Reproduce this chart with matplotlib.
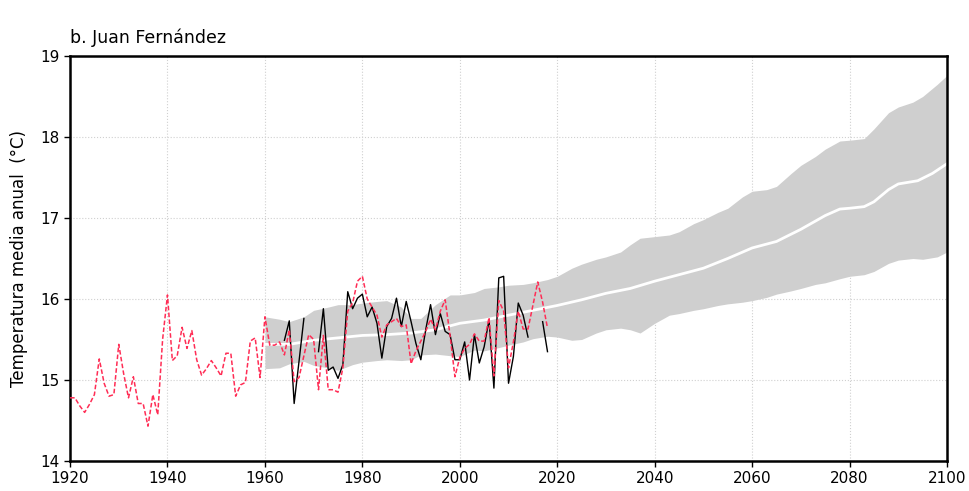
import numpy as np
import matplotlib
matplotlib.use("Agg")
import matplotlib.pyplot as plt

# observed series (red dashed), 1920-2018
obs_red_years = np.arange(1920, 2019)
obs_red = [
    14.78, 14.78, 14.68, 14.60, 14.70, 14.82, 15.26, 14.96, 14.80, 14.82,
    15.44, 15.08, 14.78, 15.04, 14.71, 14.71, 14.43, 14.82, 14.57, 15.50,
    16.05, 15.24, 15.30, 15.65, 15.39, 15.61, 15.25, 15.06, 15.14, 15.24,
    15.15, 15.05, 15.33, 15.33, 14.80, 14.94, 14.97, 15.48, 15.52, 15.03,
    15.78, 15.43, 15.43, 15.47, 15.31, 15.62, 14.98, 15.03, 15.30, 15.56,
    15.50, 14.88, 15.55, 14.88, 14.88, 14.85, 15.15, 15.85, 15.95, 16.22,
    16.28, 16.00, 15.90, 15.80, 15.53, 15.68, 15.72, 15.76, 15.66, 15.68,
    15.20, 15.36, 15.48, 15.60, 15.75, 15.62, 15.85, 15.99, 15.55, 15.04,
    15.28, 15.39, 15.44, 15.57, 15.48, 15.48, 15.77, 15.05, 15.98, 15.85,
    15.15, 15.47, 15.85, 15.63, 15.63, 15.92, 16.21, 15.96, 15.64,
]

# station series (black), 1964-2018, gaps as nan
obs_black_years = np.arange(1964, 2019)
obs_black = [
    15.49, 15.73, 14.71, 15.23, 15.76, np.nan, np.nan, 15.35, 15.88, 15.12,
    15.16, 15.02, 15.19, 16.09, 15.88, 16.01, 16.06, 15.78, 15.90, 15.70,
    15.27, 15.66, 15.76, 16.01, 15.66, 15.97, 15.72, 15.45, 15.25, 15.62,
    15.93, 15.56, 15.82, 15.60, 15.56, 15.25, 15.25, 15.47, 15.00, 15.56,
    15.21, 15.41, 15.74, 14.90, 16.26, 16.28, 14.96, 15.29, 15.95, 15.80,
    15.53, np.nan, np.nan, 15.72, 15.35,
]

# model envelope
band_years = [
    1960, 1963, 1965, 1968, 1970, 1973, 1975, 1978, 1980, 1983, 1985, 1988,
    1990, 1992, 1995, 1998, 2000, 2003, 2005, 2008, 2010, 2013, 2015, 2018,
    2020, 2023, 2025, 2028, 2030, 2033, 2035, 2037, 2040, 2043, 2045, 2048,
    2050, 2053, 2055, 2058, 2060, 2063, 2065, 2068, 2070, 2073, 2075, 2078,
    2080, 2083, 2085, 2088, 2090, 2093, 2095, 2098, 2100,
]
band_upper = [
    15.78, 15.75, 15.72, 15.78, 15.86, 15.90, 15.93, 15.93, 15.95, 15.97, 15.98, 15.90,
    15.76, 15.76, 15.93, 16.05, 16.05, 16.08, 16.13, 16.15, 16.17, 16.18, 16.20, 16.24,
    16.28, 16.38, 16.43, 16.49, 16.52, 16.58, 16.67, 16.75, 16.77, 16.79, 16.83, 16.93,
    16.98, 17.07, 17.12, 17.26, 17.33, 17.35, 17.39, 17.55, 17.65, 17.76, 17.85, 17.95,
    17.96, 17.98, 18.10, 18.30, 18.37, 18.43, 18.50, 18.65, 18.76,
]
band_lower = [
    15.14, 15.15, 15.20, 15.23, 15.18, 15.15, 15.12, 15.19, 15.22, 15.24, 15.25, 15.24,
    15.25, 15.31, 15.32, 15.30, 15.29, 15.37, 15.36, 15.40, 15.43, 15.47, 15.51, 15.54,
    15.53, 15.49, 15.50, 15.58, 15.62, 15.64, 15.62, 15.58, 15.70, 15.80, 15.82, 15.86,
    15.88, 15.92, 15.94, 15.96, 15.98, 16.02, 16.06, 16.10, 16.13, 16.18, 16.20, 16.25,
    16.28, 16.30, 16.34, 16.44, 16.48, 16.50, 16.49, 16.52, 16.58,
]

# model mean (white)
mean_years = [
    1960, 1965, 1970, 1975, 1980, 1985, 1990, 1995, 2000, 2005, 2010, 2015,
    2020, 2025, 2030, 2035, 2040, 2045, 2050, 2055, 2060, 2065, 2070, 2075,
    2078, 2080, 2083, 2085, 2088, 2090, 2094, 2097, 2100,
]
mean_vals = [
    15.44, 15.44, 15.49, 15.52, 15.55, 15.56, 15.58, 15.62, 15.70, 15.74, 15.80, 15.86,
    15.92, 15.99, 16.07, 16.13, 16.22, 16.30, 16.38, 16.50, 16.63, 16.71, 16.86, 17.03,
    17.11, 17.12, 17.14, 17.20, 17.35, 17.42, 17.46, 17.55, 17.67,
]

fig = plt.figure(figsize=(9.7, 4.91), dpi=100)
ax = fig.add_axes([0.0722, 0.0611, 0.9041, 0.8249])

ax.fill_between(band_years, band_lower, band_upper, color="#cfcfcf", lw=0, zorder=1)
ax.plot(mean_years, mean_vals, color="white", lw=2, zorder=2)
ax.plot(obs_black_years, obs_black, color="black", lw=1.0, zorder=3)
ax.plot(obs_red_years, obs_red, color="#ff2d55", lw=1.1, ls=(0, (3, 1.5)), zorder=4)

ax.set_xlim(1920, 2100)
ax.set_ylim(14, 19)
ax.set_xticks(np.arange(1920, 2101, 20))
ax.set_yticks(np.arange(14, 20, 1))
ax.grid(True, color="#d0d0d0", ls=":", lw=0.8)
ax.set_axisbelow(True)
for s in ax.spines.values():
    s.set_linewidth(1.8)
ax.tick_params(labelsize=11, length=4, width=1)

ax.set_ylabel("Temperatura media anual  (°C)", fontsize=12, labelpad=9)
ax.set_title("b. Juan Fernández", loc="left", fontsize=12.5, pad=9)

fig.savefig("out.png", dpi=100)
